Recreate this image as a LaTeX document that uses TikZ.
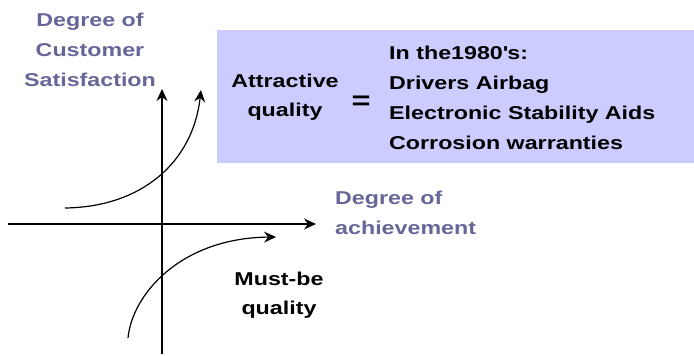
\documentclass[tikz,border=0pt]{standalone}
\usepackage{fontspec}
\setmainfont{Liberation Sans}[FakeStretch=1.25]
\usetikzlibrary{arrows.meta}
\definecolor{axislab}{RGB}{102,102,153}
\definecolor{boxfill}{RGB}{204,204,255}
\tikzset{
  lab/.style={font=\bfseries\fontsize{18.6}{30.4}\selectfont, text=axislab, align=center, inner sep=0pt},
  blk/.style={font=\bfseries\fontsize{18.6}{29}\selectfont, text=black, align=center, inner sep=0pt},
  axisline/.style={line width=1.2pt, -{Stealth[length=12pt,width=11pt,inset=4pt]}},
  curveline/.style={line width=1.2pt, -{Stealth[length=12pt,width=11pt,inset=4pt]}}
}
\begin{document}
\begin{tikzpicture}[x=1pt,y=-1pt]
\useasboundingbox (0,0) rectangle (694,356);
\fill[boxfill] (217,30) rectangle (694,163);
% axes
\coordinate (yb) at (162,354);
\coordinate (yt) at (162,89);
\coordinate (xl) at (8,224);
\coordinate (xr) at (316,224);
\draw[axisline] (yb) -- (yt);
\draw[axisline] (xl) -- (xr);
% curves
\coordinate (as) at (65,208);
\coordinate (ae) at (201,90);
\draw[curveline] (as) .. controls (142,207) and (193,162) .. (ae);
\coordinate (ms) at (128,338);
\coordinate (me) at (276,237);
\draw[curveline] (ms) .. controls (132,295) and (180,238) .. (me);
% labels
\node[lab, anchor=north] (ycs) at (90,12.5) {Degree of\\Customer\\Satisfaction};
\node[lab, align=left, anchor=north west] (xach) at (335,190.5) {Degree of\\achievement};
\node[blk, anchor=north] (must) at (279,272) {Must-be\\quality};
\node[blk, anchor=north] (attr) at (285,74) {Attractive\\quality};
\node[font=\bfseries\fontsize{26}{26}\selectfont, inner sep=0pt] (eq) at (361,103) {=};
\node[blk, align=left, anchor=north west, font=\bfseries\fontsize{18.6}{30.1}\selectfont] (list) at (389,46) {In the1980\textquotesingle s:\\Drivers Airbag\\Electronic Stability Aids\\Corrosion warranties};
\end{tikzpicture}
\end{document}
